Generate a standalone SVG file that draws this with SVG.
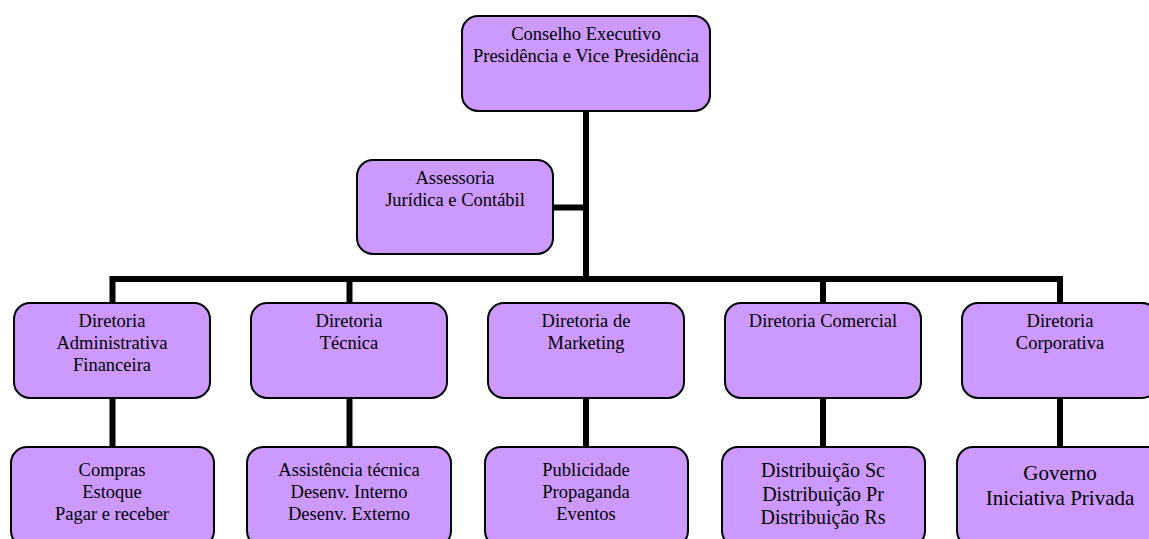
<svg xmlns="http://www.w3.org/2000/svg" width="1149" height="539" viewBox="0 0 1149 539">
<style>
.box{fill:#CC99FF;stroke:#000;stroke-width:2}
.t{font-family:"Liberation Serif","Times New Roman",serif;font-size:18.5px;fill:#000;text-anchor:middle}
.tl{font-family:"Liberation Serif","Times New Roman",serif;font-size:20px;fill:#000;text-anchor:middle}
.tx{font-family:"Liberation Serif","Times New Roman",serif;font-size:21px;fill:#000;text-anchor:middle}
.c{stroke:#000;stroke-width:6;fill:none}
</style>
<rect width="1149" height="539" fill="#fff"/>
<g id="connectors">
<line class="c" x1="586" y1="111" x2="586" y2="279"/>
<line class="c" x1="553" y1="207.5" x2="586" y2="207.5"/>
<polyline class="c" points="112.5,303 112.5,279 1060,279 1060,303"/>
<line class="c" x1="349.5" y1="279" x2="349.5" y2="303"/>
<line class="c" x1="823" y1="279" x2="823" y2="303"/>
<line class="c" x1="112.5" y1="398" x2="112.5" y2="447"/>
<line class="c" x1="349.5" y1="398" x2="349.5" y2="447"/>
<line class="c" x1="586" y1="398" x2="586" y2="447"/>
<line class="c" x1="823" y1="398" x2="823" y2="447"/>
<line class="c" x1="1060" y1="398" x2="1060" y2="447"/>
</g>
<g id="conselho">
<rect class="box" x="462" y="16" width="248" height="95" rx="16"/>
<text class="t" x="586" y="40">Conselho Executivo</text>
<text class="t" x="586" y="62">Presidência e Vice Presidência</text>
</g>
<g id="assessoria">
<rect class="box" x="357" y="160" width="196" height="94" rx="16"/>
<text class="t" x="455" y="184">Assessoria</text>
<text class="t" x="455" y="206">Jurídica e Contábil</text>
</g>
<g id="dir-adm">
<rect class="box" x="14" y="303" width="196" height="95" rx="16"/>
<text class="t" x="112" y="327">Diretoria</text>
<text class="t" x="112" y="349">Administrativa</text>
<text class="t" x="112" y="371">Financeira</text>
</g>
<g id="dir-tec">
<rect class="box" x="251" y="303" width="196" height="95" rx="16"/>
<text class="t" x="349" y="327">Diretoria</text>
<text class="t" x="349" y="349">Técnica</text>
</g>
<g id="dir-mkt">
<rect class="box" x="488" y="303" width="196" height="95" rx="16"/>
<text class="t" x="586" y="327">Diretoria de</text>
<text class="t" x="586" y="349">Marketing</text>
</g>
<g id="dir-com">
<rect class="box" x="725" y="303" width="196" height="95" rx="16"/>
<text class="t" x="823" y="327">Diretoria Comercial</text>
</g>
<g id="dir-corp">
<rect class="box" x="962" y="303" width="196" height="95" rx="16"/>
<text class="t" x="1060" y="327">Diretoria</text>
<text class="t" x="1060" y="349">Corporativa</text>
</g>
<g id="compras">
<rect class="box" x="11" y="447" width="203" height="100" rx="16"/>
<text class="t" x="112" y="476">Compras</text>
<text class="t" x="112" y="498">Estoque</text>
<text class="t" x="112" y="520">Pagar e receber</text>
</g>
<g id="assistencia">
<rect class="box" x="247" y="447" width="204" height="100" rx="16"/>
<text class="t" x="349" y="476">Assistência técnica</text>
<text class="t" x="349" y="498">Desenv. Interno</text>
<text class="t" x="349" y="520">Desenv. Externo</text>
</g>
<g id="publicidade">
<rect class="box" x="485" y="447" width="203" height="100" rx="16"/>
<text class="t" x="586" y="476">Publicidade</text>
<text class="t" x="586" y="498">Propaganda</text>
<text class="t" x="586" y="520">Eventos</text>
</g>
<g id="distribuicao">
<rect class="box" x="722" y="447" width="203" height="100" rx="16"/>
<text class="tl" x="823" y="477">Distribuição Sc</text>
<text class="tl" x="823" y="501">Distribuição Pr</text>
<text class="tl" x="823" y="524">Distribuição Rs</text>
</g>
<g id="governo">
<rect class="box" x="957" y="447" width="206" height="100" rx="16"/>
<text class="tx" x="1060" y="480">Governo</text>
<text class="tx" x="1060" y="505">Iniciativa Privada</text>
</g>
</svg>
